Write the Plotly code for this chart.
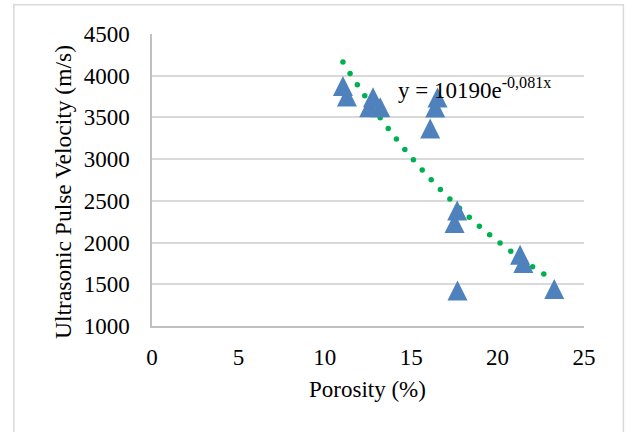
import numpy as np
import plotly.graph_objects as go

# ---- data ----
porosity = [11.05, 11.28, 12.57, 12.79, 13.21, 16.10, 16.39, 16.52,
            17.51, 17.66, 17.68, 21.30, 21.49, 23.28]
velocity = [3878, 3751, 3622, 3742, 3622, 3366, 3618, 3739,
            2235, 2383, 1425, 1854, 1754, 1443]

# exponential trendline as displayed: y = 10190 e^(-0.081 x)
trend_a = 10190
trend_b = -0.081
equation_text = "y = 10190e<sup>-0,081x</sup>"

x_ticks = [0, 5, 10, 15, 20, 25]
y_ticks = [1000, 1500, 2000, 2500, 3000, 3500, 4000, 4500]

# ---- layout geometry ----
W, H = 627, 432
ML, MR, MT, MB = 151.5, 42.5, 34.3, 105.8
plot_w = W - ML - MR
plot_h = H - MT - MB
kx = plot_w / (x_ticks[-1] - x_ticks[0])
ky = plot_h / (y_ticks[-1] - y_ticks[0])

MARKER = 20  # triangle size in px
# arrow-up marker has its apex at the point: shift so the triangle is centred on the value
vel_plot = np.array(velocity) + (MARKER / 2) / ky

# trendline dots evenly spaced along the curve (round-dot dash look)
xs = np.linspace(min(porosity), max(porosity), 4000)
ys = trend_a * np.exp(trend_b * xs)
seg = np.hypot(np.diff(xs) * kx, np.diff(ys) * ky)
cum = np.concatenate([[0], np.cumsum(seg)])
targets = np.arange(0, cum[-1], 13.4)
idx = np.searchsorted(cum, targets)
idx = np.clip(idx, 0, len(xs) - 1)
tx, ty = xs[idx], ys[idx]

FONT = "Liberation Serif"

fig = go.Figure()
fig.add_trace(go.Scatter(
    x=tx, y=ty, mode="markers",
    marker=dict(symbol="circle", size=5.5, color="#00B050"),
    hoverinfo="skip", showlegend=False))
fig.add_trace(go.Scatter(
    x=porosity, y=vel_plot, mode="markers",
    marker=dict(symbol="arrow-up", size=MARKER, color="#4F81BD", line=dict(width=0)),
    showlegend=False))

fig.update_layout(
    width=W, height=H,
    margin=dict(l=ML, r=MR, t=MT, b=MB, pad=0, autoexpand=False),
    paper_bgcolor="white", plot_bgcolor="white",
    font=dict(family=FONT, color="#000000", size=22),
    xaxis=dict(range=[x_ticks[0], x_ticks[-1]], tickvals=x_ticks,
               showgrid=False, zeroline=False,
               showline=True, linecolor="#BFBFBF", linewidth=1.5,
               ticks="", ticklabelstandoff=10, automargin=False,
               tickfont=dict(family=FONT, size=23, color="#000000")),
    yaxis=dict(range=[y_ticks[0], y_ticks[-1]], tickvals=y_ticks,
               showgrid=True, gridcolor="#D9D9D9", gridwidth=1.5,
               zeroline=False, automargin=False,
               showline=True, linecolor="#BFBFBF", linewidth=1.5,
               ticks="", ticklabelstandoff=16,
               tickfont=dict(family=FONT, size=23, color="#000000")),
    shapes=[dict(type="rect", xref="paper", yref="paper",
                 x0=(13 - ML) / plot_w, x1=(624 - ML) / plot_w,
                 y0=(H - MB - 445) / plot_h, y1=(H - MB - 5) / plot_h,
                 line=dict(color="#D9D9D9", width=1.5), fillcolor="rgba(0,0,0,0)",
                 layer="below")],
    annotations=[
        dict(text="Porosity (%)", xref="paper", yref="paper",
             x=(367 - ML) / plot_w, y=(H - MB - 390) / plot_h,
             xanchor="center", yanchor="middle", showarrow=False,
             font=dict(family=FONT, size=23, color="#000000")),
        dict(text="Ultrasonic Pulse Velocity (m/s)", xref="paper", yref="paper",
             x=(63 - ML) / plot_w, y=(H - MB - 192.5) / plot_h,
             xanchor="center", yanchor="middle", textangle=-90, showarrow=False,
             font=dict(family=FONT, size=23.5, color="#000000")),
        dict(text=equation_text, xref="paper", yref="paper",
             x=(396 - ML) / plot_w, y=(H - MB - 89) / plot_h,
             xanchor="left", yanchor="middle", showarrow=False,
             font=dict(family=FONT, size=23, color="#000000")),
    ],
)

fig.write_html("out.html", config={"displayModeBar": False},
               post_script="document.body.style.margin='0';document.body.style.overflow='hidden';")
